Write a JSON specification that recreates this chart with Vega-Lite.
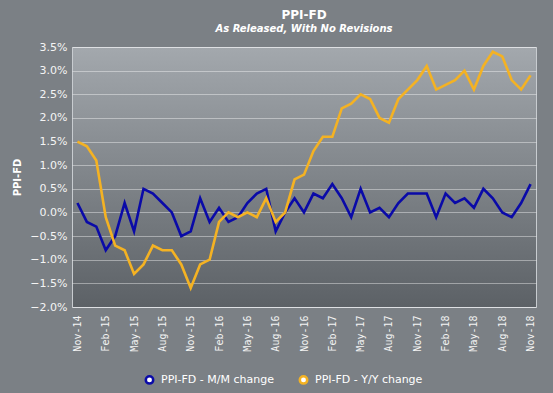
{
  "$schema": "https://vega.github.io/schema/vega-lite/v6.json",
  "width": 464,
  "height": 260,
  "autosize": {"type": "none"},
  "padding": {"left": 72, "top": 47, "right": 17, "bottom": 86},
  "background": "#7b8085",
  "title": {
    "text": "PPI-FD",
    "subtitle": "As Released, With No Revisions",
    "anchor": "middle",
    "frame": "group",
    "font": "DejaVu Sans",
    "fontSize": 12,
    "fontWeight": "bold",
    "color": "#ffffff",
    "subtitleFont": "DejaVu Sans",
    "subtitleFontSize": 10,
    "subtitleFontWeight": "bold",
    "subtitleFontStyle": "italic",
    "subtitleColor": "#ffffff",
    "subtitlePadding": 2,
    "offset": 6
  },
  "data": {
    "values": [
      {"month": "Nov-14", "mm": 0.2, "yy": 1.5},
      {"month": "Dec-14", "mm": -0.2, "yy": 1.4},
      {"month": "Jan-15", "mm": -0.3, "yy": 1.1},
      {"month": "Feb-15", "mm": -0.8, "yy": -0.1},
      {"month": "Mar-15", "mm": -0.5, "yy": -0.7},
      {"month": "Apr-15", "mm": 0.2, "yy": -0.8},
      {"month": "May-15", "mm": -0.4, "yy": -1.3},
      {"month": "Jun-15", "mm": 0.5, "yy": -1.1},
      {"month": "Jul-15", "mm": 0.4, "yy": -0.7},
      {"month": "Aug-15", "mm": 0.2, "yy": -0.8},
      {"month": "Sep-15", "mm": 0.0, "yy": -0.8},
      {"month": "Oct-15", "mm": -0.5, "yy": -1.1},
      {"month": "Nov-15", "mm": -0.4, "yy": -1.6},
      {"month": "Dec-15", "mm": 0.3, "yy": -1.1},
      {"month": "Jan-16", "mm": -0.2, "yy": -1.0},
      {"month": "Feb-16", "mm": 0.1, "yy": -0.2},
      {"month": "Mar-16", "mm": -0.2, "yy": 0.0},
      {"month": "Apr-16", "mm": -0.1, "yy": -0.1},
      {"month": "May-16", "mm": 0.2, "yy": 0.0},
      {"month": "Jun-16", "mm": 0.4, "yy": -0.1},
      {"month": "Jul-16", "mm": 0.5, "yy": 0.3},
      {"month": "Aug-16", "mm": -0.4, "yy": -0.2},
      {"month": "Sep-16", "mm": 0.0, "yy": 0.0},
      {"month": "Oct-16", "mm": 0.3, "yy": 0.7},
      {"month": "Nov-16", "mm": 0.0, "yy": 0.8},
      {"month": "Dec-16", "mm": 0.4, "yy": 1.3},
      {"month": "Jan-17", "mm": 0.3, "yy": 1.6},
      {"month": "Feb-17", "mm": 0.6, "yy": 1.6},
      {"month": "Mar-17", "mm": 0.3, "yy": 2.2},
      {"month": "Apr-17", "mm": -0.1, "yy": 2.3},
      {"month": "May-17", "mm": 0.5, "yy": 2.5},
      {"month": "Jun-17", "mm": 0.0, "yy": 2.4},
      {"month": "Jul-17", "mm": 0.1, "yy": 2.0},
      {"month": "Aug-17", "mm": -0.1, "yy": 1.9},
      {"month": "Sep-17", "mm": 0.2, "yy": 2.4},
      {"month": "Oct-17", "mm": 0.4, "yy": 2.6},
      {"month": "Nov-17", "mm": 0.4, "yy": 2.8},
      {"month": "Dec-17", "mm": 0.4, "yy": 3.1},
      {"month": "Jan-18", "mm": -0.1, "yy": 2.6},
      {"month": "Feb-18", "mm": 0.4, "yy": 2.7},
      {"month": "Mar-18", "mm": 0.2, "yy": 2.8},
      {"month": "Apr-18", "mm": 0.3, "yy": 3.0},
      {"month": "May-18", "mm": 0.1, "yy": 2.6},
      {"month": "Jun-18", "mm": 0.5, "yy": 3.1},
      {"month": "Jul-18", "mm": 0.3, "yy": 3.4},
      {"month": "Aug-18", "mm": 0.0, "yy": 3.3},
      {"month": "Sep-18", "mm": -0.1, "yy": 2.8},
      {"month": "Oct-18", "mm": 0.2, "yy": 2.6},
      {"month": "Nov-18", "mm": 0.6, "yy": 2.9}
    ]
  },
  "transform": [
    {"fold": ["mm", "yy"], "as": ["key", "value"]},
    {"lookup": "key", "from": {"data": {"values": [
      {"key": "mm", "series": "PPI-FD - M/M change"},
      {"key": "yy", "series": "PPI-FD - Y/Y change"}
    ]}, "key": "key", "fields": ["series"]}}
  ],
  "mark": {"type": "line", "strokeWidth": 2.6, "interpolate": "linear"},
  "encoding": {
    "x": {
      "field": "month",
      "type": "ordinal",
      "sort": null,
      "scale": {"type": "point", "padding": 0.575},
      "axis": {
        "title": null,
        "values": ["Nov-14", "Feb-15", "May-15", "Aug-15", "Nov-15", "Feb-16", "May-16", "Aug-16", "Nov-16", "Feb-17", "May-17", "Aug-17", "Nov-17", "Feb-18", "May-18", "Aug-18", "Nov-18"],
        "labelAngle": -90,
        "labelFont": "DejaVu Sans Mono",
        "labelFontSize": 10,
        "labelColor": "#f4f4f4",
        "labelPadding": 8,
        "ticks": false,
        "domain": false,
        "grid": false
      }
    },
    "y": {
      "field": "value",
      "type": "quantitative",
      "scale": {"domain": [-2.0, 3.5], "nice": false, "zero": false},
      "axis": {
        "title": "PPI-FD",
        "titleFont": "DejaVu Sans",
        "titleFontSize": 10,
        "titleFontWeight": "bold",
        "titleColor": "#ffffff",
        "titlePadding": 7,
        "values": [-2.0, -1.5, -1.0, -0.5, 0.0, 0.5, 1.0, 1.5, 2.0, 2.5, 3.0, 3.5],
        "labelExpr": "format(datum.value, '.1f') + '%'",
        "labelFont": "DejaVu Sans",
        "labelFontSize": 11,
        "labelColor": "#f4f4f4",
        "labelPadding": 5,
        "ticks": false,
        "domain": false,
        "grid": true,
        "gridColor": "#ffffff",
        "gridOpacity": 0.4,
        "gridWidth": 1
      }
    },
    "color": {
      "field": "series",
      "type": "nominal",
      "scale": {"domain": ["PPI-FD - M/M change", "PPI-FD - Y/Y change"], "range": ["#0a0aa8", "#f4b223"]},
      "legend": {
        "title": null,
        "orient": "none",
        "direction": "horizontal",
        "legendX": 72,
        "legendY": 327,
        "symbolType": "circle",
        "symbolFillColor": "#ffffff",
        "symbolStrokeWidth": 2.5,
        "symbolSize": 55,
        "labelFont": "DejaVu Sans",
        "labelFontSize": 11,
        "labelColor": "#ffffff",
        "labelOffset": 6,
        "columnPadding": 20,
        "padding": 0
      }
    }
  },
  "config": {
    "view": {
      "stroke": "#c8ccd0",
      "strokeWidth": 1,
      "fill": {
        "gradient": "linear",
        "x1": 0, "y1": 0, "x2": 0, "y2": 1,
        "stops": [
          {"offset": 0, "color": "#a3a8ad"},
          {"offset": 1, "color": "#5c6166"}
        ]
      }
    }
  }
}
